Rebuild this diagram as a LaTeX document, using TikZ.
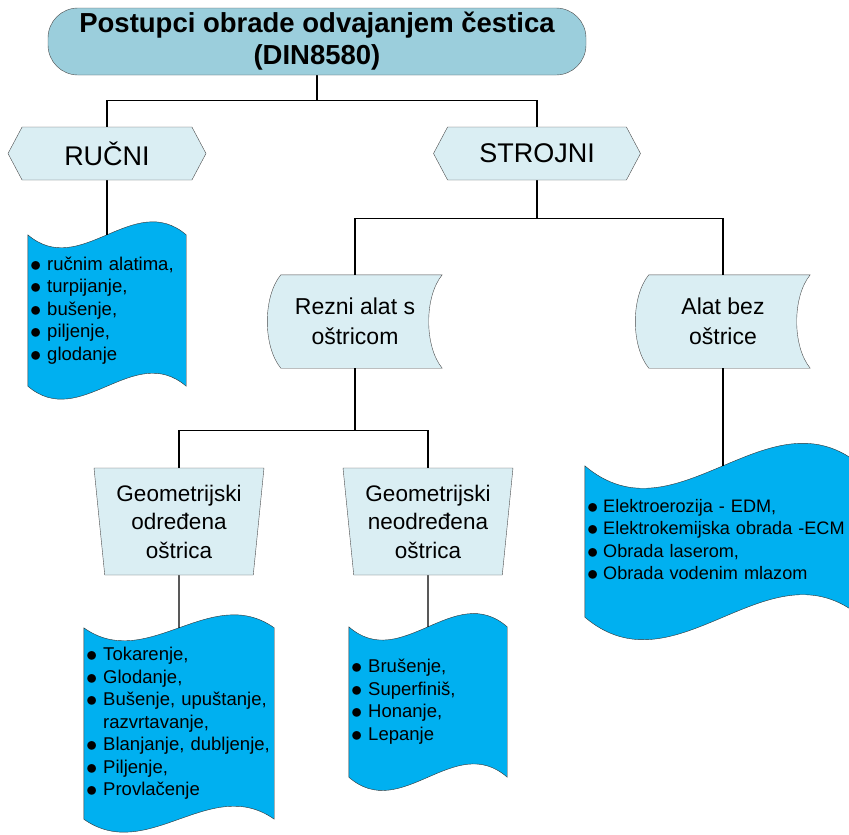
\documentclass[tikz,border=0pt]{standalone}
\usepackage{fontspec}
\setmainfont{Liberation Sans}
\usetikzlibrary{positioning,calc,shapes.geometric,shapes.symbols,backgrounds}

\definecolor{headfill}{RGB}{155,206,220}
\definecolor{boxfill}{RGB}{218,238,243}
\definecolor{listfill}{RGB}{0,176,240}

\newcommand{\listfont}{\fontsize{18.5}{22.5}\selectfont}
\newcommand{\stavka}{\raisebox{-1.2pt}{\scalebox{1.3}{$\bullet$}}}

\begin{document}
\begin{tikzpicture}[x=1pt,y=-1pt]
  \useasboundingbox (0,0) rectangle (849,835);

  \tikzstyle{HeadStyle}=[rectangle,rounded corners=30pt,draw=black!70,fill=headfill,
    minimum width=538pt,minimum height=67pt,align=center,inner sep=0pt,
    font=\fontsize{27.5}{32}\selectfont\bfseries]
  \tikzstyle{KindStyle}=[signal,signal to=west and east,signal pointer angle=124,
    draw=black!70,fill=boxfill,minimum height=53pt,inner sep=0pt,
    font=\fontsize{27}{32}\selectfont]
  \tikzstyle{ToolStyle}=[rectangle,minimum width=174pt,minimum height=93pt,
    align=center,inner sep=0pt,font=\fontsize{23}{30}\selectfont]
  \tikzstyle{EdgeShape}=[trapezium,shape border rotate=180,
    trapezium left angle=83,trapezium right angle=83,trapezium stretches=true,
    draw=black!70,fill=boxfill,minimum width=170pt,minimum height=107pt,
    align=center,inner sep=0pt,font=\fontsize{22.5}{28.5}\selectfont]
  \tikzstyle{ListStyle}=[rectangle,inner xsep=2pt,inner ysep=0pt,align=left,font=\listfont]
  \tikzstyle{LineStyle}=[line width=1.3pt]

  % naslov
  \node[HeadStyle] (head) at (317,41.5) {Postupci obrade odvajanjem čestica\\(DIN8580)};

  % rucni / strojni
  \node[KindStyle,minimum width=198pt] (rucni) at (107,153.5) {RUČNI};
  \node[KindStyle,minimum width=207pt] (strojni) at (537,153.5) {STROJNI};

  \node[ToolStyle] (rezni) at (355,321.5) {Rezni alat s\\oštricom};
  \node[ToolStyle] (alatbez) at (723,321.5) {Alat bez\\oštrice};

  \node[EdgeShape] (geoodr) at (179,521.5) {Geometrijski\\određena\\oštrica};
  \node[EdgeShape] (geoneodr) at (428,521.5) {Geometrijski\\neodređena\\oštrica};

  % liste postupaka
  \node[ListStyle,minimum width=158pt,text width=154pt,minimum height=151pt]
    (listrucni) at (107,310.5) {%
    \begin{tabular}{@{}l@{\hspace{6pt}}l@{}}
      \stavka & ručnim alatima,\\
      \stavka & turpijanje,\\
      \stavka & bušenje,\\
      \stavka & piljenje,\\
      \stavka & glodanje
    \end{tabular}};
  \node[ListStyle,minimum width=276pt,text width=272pt,minimum height=151pt,
    font=\fontsize{18.1}{22.5}\selectfont]
    (listelektro) at (723,541.5) {%
    \begin{tabular}{@{}l@{\hspace{5pt}}l@{}}
      \stavka & Elektroerozija - EDM,\\
      \stavka & Elektrokemijska obrada -ECM\\
      \stavka & Obrada laserom,\\
      \stavka & Obrada vodenim mlazom
    \end{tabular}};
  \node[ListStyle,minimum width=190pt,text width=186pt,minimum height=191pt]
    (listtok) at (179,723.5) {%
    \begin{tabular}{@{}l@{\hspace{6pt}}l@{}}
      \stavka & Tokarenje,\\
      \stavka & Glodanje,\\
      \stavka & Bušenje, upuštanje,\\
              & razvrtavanje,\\
      \stavka & Blanjanje, dubljenje,\\
      \stavka & Piljenje,\\
      \stavka & Provlačenje
    \end{tabular}};
  \node[ListStyle,minimum width=158pt,text width=154pt,minimum height=150pt]
    (listbrus) at (428,702) {%
    \begin{tabular}{@{}l@{\hspace{6pt}}l@{}}
      \stavka & Brušenje,\\
      \stavka & Superfiniš,\\
      \stavka & Honanje,\\
      \stavka & Lepanje
    \end{tabular}};

  \begin{scope}[on background layer]
    % spremljeni podaci
    \foreach \n in {rezni,alatbez}
      \draw[draw=black!70,fill=boxfill]
        ([xshift=13pt]\n.north west) -- (\n.north east)
        .. controls ([xshift=-18pt,yshift=-22pt]\n.north east)
                and ([xshift=-18pt,yshift=22pt]\n.south east) .. (\n.south east)
        -- ([xshift=13pt]\n.south west)
        .. controls ([xshift=-5pt,yshift=22pt]\n.south west)
                and ([xshift=-5pt,yshift=-22pt]\n.north west) .. ([xshift=13pt]\n.north west)
        -- cycle;

    % valovite trake
    \foreach \n/\k in {listrucni/45,listelektro/78,listtok/45,listbrus/46}
      \draw[draw=black!80,fill=listfill]
        (\n.north west)
        .. controls ($(\n.north west)!1/3!(\n.north east)+(0,\k)$)
                and ($(\n.north west)!2/3!(\n.north east)-(0,\k)$) .. (\n.north east)
        -- (\n.south east)
        .. controls ($(\n.south west)!2/3!(\n.south east)-(0,\k)$)
                and ($(\n.south west)!1/3!(\n.south east)+(0,\k)$) .. (\n.south west)
        -- cycle;

    \draw[LineStyle] (head.south) -- ++(0,25) -| (rucni.north);
    \draw[LineStyle] (head.south) -- ++(0,25) -| (strojni.north);
    \draw[LineStyle] (strojni.south) -- ++(0,38) -| (rezni.north);
    \draw[LineStyle] (strojni.south) -- ++(0,38) -| (alatbez.north);
    \draw[LineStyle] (rezni.south) -- ++(0,62) -| (geoodr.north);
    \draw[LineStyle] (rezni.south) -- ++(0,62) -| (geoneodr.north);
    \draw[LineStyle] (rucni.south) -- (listrucni.north);
    \draw[LineStyle] (alatbez.south) -- (listelektro.north);
    \draw[LineStyle] (geoodr.south) -- (listtok.north);
    \draw[LineStyle] (geoneodr.south) -- (listbrus.north);
  \end{scope}
\end{tikzpicture}
\end{document}
